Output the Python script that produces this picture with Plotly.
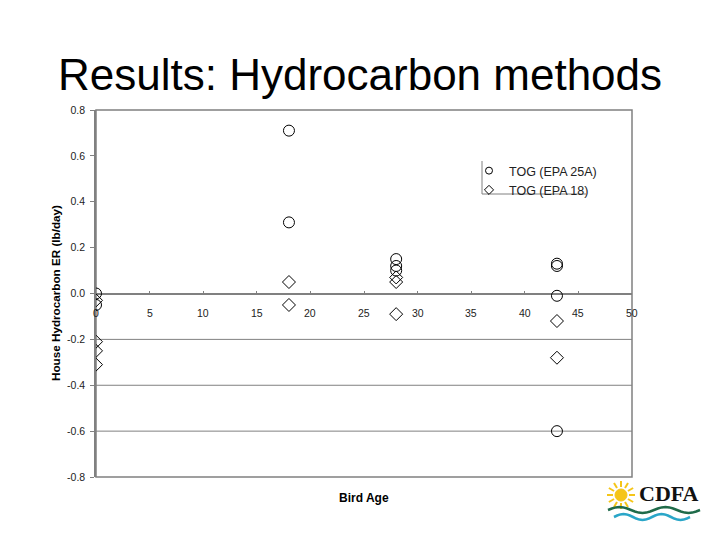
import math
import plotly.graph_objects as go

# ---- data ----
age_25a = [0, 0, 18, 18, 28, 28, 28, 43, 43, 43, 43]
er_25a = [0.00, -0.05, 0.71, 0.31, 0.15, 0.12, 0.10, 0.13, 0.12, -0.01, -0.60]
age_18 = [0, 0, 0, 0, 18, 18, 28, 28, 28, 43, 43]
er_18 = [-0.03, -0.21, -0.25, -0.31, 0.05, -0.05, 0.07, 0.05, -0.09, -0.12, -0.28]
series_names = ["TOG (EPA 25A)", "TOG (EPA 18)"]
x_ticks = [0, 5, 10, 15, 20, 25, 30, 35, 40, 45, 50]
y_ticks = [0.8, 0.6, 0.4, 0.2, 0.0, -0.2, -0.4, -0.6, -0.8]
y_tick_labels = ["0.8", "0.6", "0.4", "0.2", "0.0", "-0.2", "-0.4", "-0.6", "-0.8"]
grid_values = [-0.2, -0.4, -0.6]

# page has an 8px body margin; screen coords -> figure coords
OFF = 8
W, H = 720, 540
L, R, T, B = 96 - OFF, 632 - OFF, 110 - OFF, 477 - OFF
def px(x):
    return (x - OFF - L) / (R - L)
def py(y):
    return (B - (y - OFF)) / (B - T)

fig = go.Figure()
fig.add_trace(go.Scatter(
    x=age_25a, y=er_25a, mode="markers", name=series_names[0], showlegend=False,
    marker=dict(symbol="circle-open", size=11, color="black", line=dict(width=1)),
))
fig.add_trace(go.Scatter(
    x=age_18, y=er_18, mode="markers", name=series_names[1], showlegend=False,
    marker=dict(symbol="diamond-open", size=10, color="black", line=dict(width=1)),
))
# legend entries (smaller symbols, as in the reference legend)
fig.add_trace(go.Scatter(
    x=[None], y=[None], mode="markers", name=series_names[0],
    marker=dict(symbol="circle-open", size=7, color="black", line=dict(width=1)),
))
fig.add_trace(go.Scatter(
    x=[None], y=[None], mode="markers", name=series_names[1],
    marker=dict(symbol="diamond-open", size=7, color="black", line=dict(width=1)),
))

shapes = []
for g in grid_values:
    shapes.append(dict(type="line", xref="paper", yref="y", x0=0, x1=1, y0=g, y1=g,
                       line=dict(color="#808080", width=1), layer="below"))
# plot border
shapes.append(dict(type="rect", xref="paper", yref="paper", x0=0, x1=1, y0=0, y1=1,
                   line=dict(color="#808080", width=1.5), layer="below"))
# legend left & bottom lines
shapes.append(dict(type="line", xref="paper", yref="paper", x0=px(482), x1=px(482),
                   y0=py(161), y1=py(194), line=dict(color="#808080", width=1)))
shapes.append(dict(type="line", xref="paper", yref="paper", x0=px(482), x1=px(586),
                   y0=py(194), y1=py(194), line=dict(color="#808080", width=1)))

# CDFA logo (decoration)
cx, cy = 621, 495
shapes.append(dict(type="circle", xref="paper", yref="paper",
                   x0=px(cx - 6), x1=px(cx + 6), y0=py(cy + 6), y1=py(cy - 6),
                   fillcolor="#f5c518", line=dict(color="#f5c518", width=1)))
for k in range(12):
    a = 2 * math.pi * k / 12
    shapes.append(dict(type="line", xref="paper", yref="paper",
                       x0=px(cx + 8 * math.cos(a)), y0=py(cy + 8 * math.sin(a)),
                       x1=px(cx + 14 * math.cos(a)), y1=py(cy + 14 * math.sin(a)),
                       line=dict(color="#f5c518", width=2)))
def wave(y0, color, x0=608, x1=700):
    pts = []
    n = 24
    for i in range(n + 1):
        x = x0 + (x1 - x0) * i / n
        y = y0 - 3 * math.sin(i / n * 4 * math.pi)
        pts.append(f"{px(x):.4f},{py(y):.4f}")
    return dict(type="path", xref="paper", yref="paper",
                path="M " + " L ".join(pts), line=dict(color=color, width=2.5))
shapes.append(wave(510, "#1f6b4a"))
shapes.append(wave(517, "#2aa6c8", 614, 690))

# x tick labels sit just under the y=0 axis line
annotations = [
    dict(text=str(t), xref="x", yref="y", x=t, y=0, xanchor="center", yanchor="top",
         yshift=-11, showarrow=False, font=dict(size=10.5, color="#222"))
    for t in x_ticks
]
annotations += [
    dict(text="Results: Hydrocarbon methods", xref="paper", yref="paper",
         x=px(360), y=py(74), xanchor="center", yanchor="middle", showarrow=False,
         font=dict(size=44, family="Arial, Liberation Sans, sans-serif", color="black")),
    dict(text="<b>Bird Age</b>", xref="paper", yref="paper",
         x=px(364), y=py(498), xanchor="center", yanchor="middle", showarrow=False,
         font=dict(size=12)),
    dict(text="<b>House Hydrocarbon ER (lb/day)</b>", xref="paper", yref="paper",
         x=px(55), y=py(293), xanchor="center", yanchor="middle", showarrow=False,
         textangle=-90, font=dict(size=11.7)),
    dict(text="<b>CDFA</b>", xref="paper", yref="paper",
         x=px(669), y=py(494), xanchor="center", yanchor="middle", showarrow=False,
         font=dict(size=22, family="Liberation Serif, serif", color="#111")),
]

fig.update_layout(
    width=W, height=H,
    margin=dict(l=L, r=W - R, t=T, b=H - B, autoexpand=False),
    paper_bgcolor="white", plot_bgcolor="white",
    font=dict(family="Arial, Liberation Sans, sans-serif", color="black"),
    showlegend=True,
    legend=dict(x=px(469), y=py(156), xanchor="left", yanchor="top",
                bgcolor="rgba(0,0,0,0)", borderwidth=0,
                font=dict(size=12.5, color="#222"), itemwidth=30, tracegroupgap=0),
    xaxis=dict(range=[0, 50], tickvals=x_ticks, showticklabels=False,
               anchor="free", position=0.5,
               ticks="inside", ticklen=3, tickcolor="#808080",
               showline=False, showgrid=False, zeroline=False,
               automargin=False),
    yaxis=dict(range=[-0.8, 0.8], tickvals=y_ticks, ticktext=y_tick_labels,
               showline=True, linecolor="#808080", linewidth=1.5,
               showgrid=False, zeroline=True, zerolinecolor="#808080", zerolinewidth=1.5,
               ticks="outside", ticklen=4, tickcolor="#808080", ticklabelstandoff=3,
               tickfont=dict(size=10.5, color="#222"), automargin=False),
    shapes=shapes,
    annotations=annotations,
)

fig.write_html("out.html")
